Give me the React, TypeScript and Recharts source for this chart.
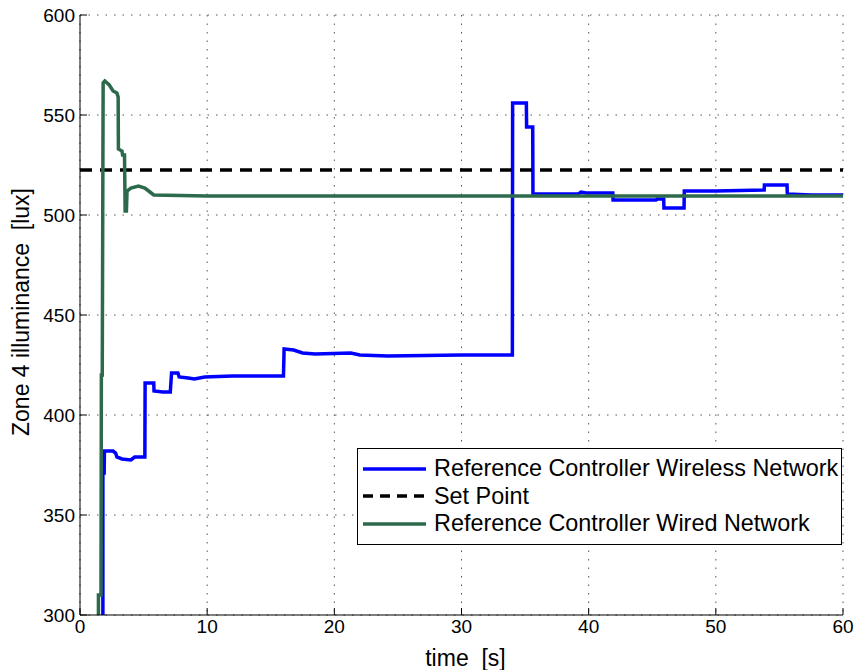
import React from 'react'
import {
    LineChart,
    Line,
    XAxis,
    YAxis,
    CartesianGrid,
    Legend,
} from 'recharts'

// time [s] / illuminance [lux]
const wirelessTime = [
    1.8, 1.8, 1.9, 1.92, 2.6, 2.8, 2.9, 3.3, 4.0, 4.3, 5.1, 5.12, 5.8, 5.82, 6.5, 7.1, 7.2, 7.7, 7.8, 8.5,
    9.0, 9.8, 12, 16.0, 16.05, 16.8, 17.5, 18.5, 21.3, 22, 24.2, 30, 34.0, 34.02, 35.1, 35.12, 35.6, 35.62,
    39.2, 39.4, 39.8, 41.9, 41.92, 45.3, 45.4, 45.9, 45.92, 47.5, 47.52, 50, 53.8, 53.82, 55.6, 55.62, 57.5, 60,
]
const wirelessLux = [
    300, 371, 371, 382, 382, 381, 379, 378, 377.5, 379, 379, 416, 416, 412, 411.5, 411.5, 421, 421, 419, 418.5,
    418, 419, 419.5, 419.5, 433, 432.5, 431, 430.5, 431, 430, 429.5, 430, 430, 556, 556, 544, 544, 510.5,
    510.5, 511.5, 511, 511, 507.5, 507.5, 508, 508, 503.5, 503.5, 512, 512, 512.5, 515, 515, 510.5, 510, 510,
]

const wiredTime = [
    1.45, 1.45, 1.65, 1.68, 1.75, 1.82, 1.95, 2.3, 2.6, 2.9, 3.0, 3.02, 3.3, 3.35, 3.5, 3.55, 3.65, 3.7,
    4.0, 4.6, 5.1, 5.5, 5.8, 10, 60,
]
const wiredLux = [
    300, 310, 310, 420, 420, 566, 567, 565, 562, 561, 559, 533, 532, 530, 530, 502, 502, 512,
    513.5, 514.5, 513.5, 511.5, 510, 509.5, 509.5,
]

const setPointTime = [0, 60]
const setPointLux = [522.5, 522.5]

const xTicks = [0, 10, 20, 30, 40, 50, 60]
const yTicks = [300, 350, 400, 450, 500, 550, 600]

const zip = (ts: number[], vs: number[]) => ts.map((t, i) => ({ t, v: vs[i] }))

const wireless = zip(wirelessTime, wirelessLux)
const wired = zip(wiredTime, wiredLux)
const setPoint = zip(setPointTime, setPointLux)

const BLUE = '#0000ff'
const GREEN = '#2d6a4b'
const FONT = '"Liberation Sans", Arial, Helvetica, sans-serif'
const SP = '\u00a0\u00a0'

const legendItems = [
    { name: 'Reference Controller Wireless Network', color: BLUE, dash: undefined },
    { name: 'Set Point', color: '#000', dash: '10 7' },
    { name: 'Reference Controller Wired Network', color: GREEN, dash: undefined },
]

function LegendBox() {
    return (
        <div
            style={{
                width: 485,
                height: 97,
                boxSizing: 'border-box',
                border: '1px solid #000',
                background: '#fff',
                fontFamily: FONT,
                fontSize: 23.4,
                color: '#000',
                paddingTop: 6,
            }}
        >
            {legendItems.map((it) => (
                <div key={it.name} style={{ display: 'flex', alignItems: 'center', height: 27.5 }}>
                    <svg width={76} height={12} style={{ flex: 'none' }}>
                        <line x1={5} x2={68} y1={6} y2={6} stroke={it.color} strokeWidth={3.5} strokeDasharray={it.dash} />
                    </svg>
                    <span style={{ whiteSpace: 'nowrap' }}>{it.name}</span>
                </div>
            ))}
        </div>
    )
}

export default function App() {
    return (
        <div style={{ position: 'absolute', left: 0, top: 0, background: '#fff' }}>
            <LineChart width={856} height={670} margin={{ top: 15, right: 13, bottom: 0, left: 0 }}>
                <CartesianGrid stroke="#555" strokeDasharray="1.5 7" />
                <XAxis
                    dataKey="t"
                    type="number"
                    domain={[0, 60]}
                    ticks={xTicks}
                    height={55}
                    stroke="#000"
                    tickSize={-7}
                    tickMargin={12}
                    tick={{ fill: '#000', fontSize: 19, fontFamily: FONT }}
                    label={{ value: `time${SP}[s]`, position: 'insideBottom', offset: 4, dx: 4, fill: '#000', fontSize: 23, fontFamily: FONT }}
                />
                <XAxis
                    xAxisId="top"
                    dataKey="t"
                    type="number"
                    domain={[0, 60]}
                    ticks={xTicks}
                    orientation="top"
                    height={0}
                    mirror
                    stroke="#000"
                    tickSize={7}
                    tickFormatter={() => ''}
                />
                <YAxis
                    type="number"
                    domain={[300, 600]}
                    ticks={yTicks}
                    width={80}
                    stroke="#000"
                    tickSize={-7}
                    tickMargin={12}
                    tick={{ fill: '#000', fontSize: 19, fontFamily: FONT }}
                    label={{ value: `Zone 4 illuminance${SP}[lux]`, angle: -90, position: 'center', dx: -19, dy: -3, fill: '#000', fontSize: 23, fontFamily: FONT }}
                />
                <YAxis
                    yAxisId="right"
                    type="number"
                    domain={[300, 600]}
                    ticks={yTicks}
                    orientation="right"
                    width={0}
                    mirror
                    stroke="#000"
                    tickSize={7}
                    tickFormatter={() => ''}
                />
                <Line data={wireless} dataKey="v" name="Reference Controller Wireless Network" type="linear" stroke={BLUE} strokeWidth={3.5} dot={false} isAnimationActive={false} />
                <Line data={setPoint} dataKey="v" name="Set Point" type="linear" stroke="#000" strokeWidth={3.5} strokeDasharray="12 8" dot={false} isAnimationActive={false} />
                <Line data={wired} dataKey="v" name="Reference Controller Wired Network" type="linear" stroke={GREEN} strokeWidth={3.5} dot={false} isAnimationActive={false} />
                <Legend
                    layout="horizontal"
                    verticalAlign="middle"
                    align="center"
                    content={() => <LegendBox />}
                    wrapperStyle={{ position: 'absolute', left: 357, top: 448, width: 485, height: 97 }}
                />
            </LineChart>
        </div>
    )
}
